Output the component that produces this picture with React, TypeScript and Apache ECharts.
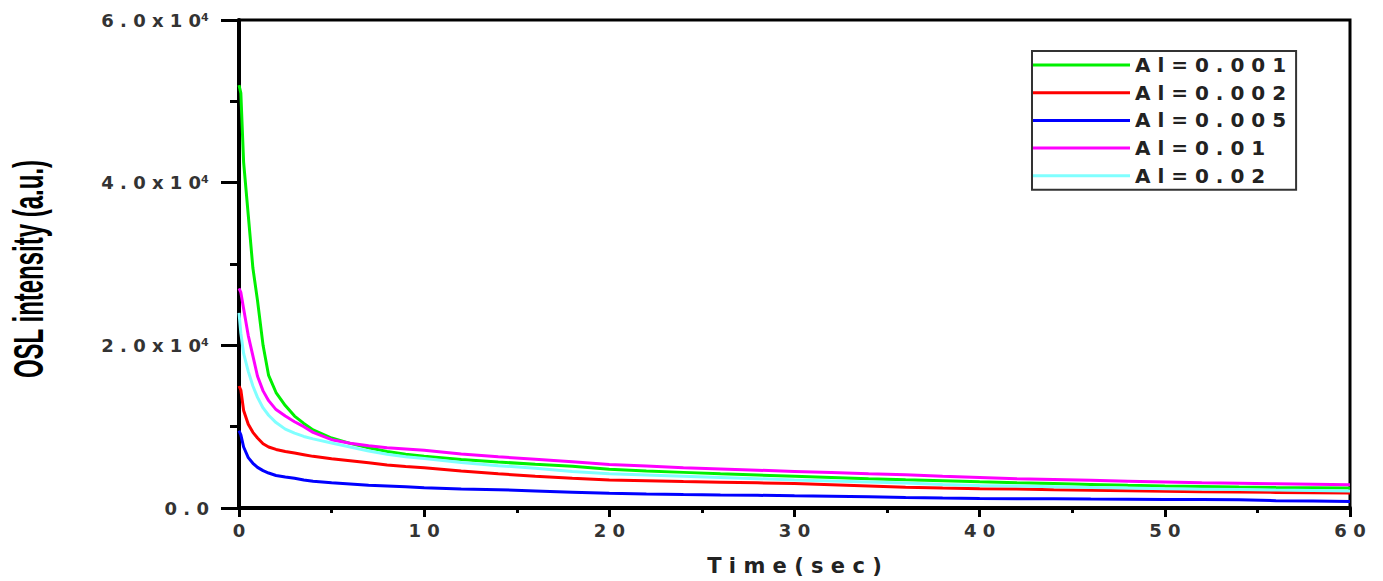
import { useEffect, useRef } from "react";
import * as echarts from "echarts";

// Time axis (seconds)
const TIME = [
  0, 0.1, 0.25, 0.5, 0.75, 1.0, 1.3, 1.6, 2.0, 2.5,
  3, 3.5, 4, 5, 6, 7, 8, 9, 10,
  12, 14, 16, 18, 20, 22, 24, 26, 28, 30, 32, 34, 36, 38, 40, 42, 44, 46, 48, 50, 52, 54, 56, 58, 60,
];

const SERIES_NAMES = ["Al=0.001", "Al=0.002", "Al=0.005", "Al=0.01", "Al=0.02"];

const AL_0001 = [
  52000, 51000, 42500, 36000, 29500, 25500, 20000, 16300, 14200, 12600,
  11300, 10400, 9600, 8600, 7950, 7400, 6950, 6600, 6350,
  5950, 5650, 5380, 5120, 4750, 4550, 4380, 4200, 4050, 3900, 3750, 3600, 3470, 3350, 3220, 3100, 3000, 2900, 2800, 2720, 2650, 2580, 2520, 2480, 2450,
];
const AL_0002 = [
  15000, 14500, 12000, 10300, 9300, 8600, 7900, 7500, 7200, 6950,
  6750, 6550, 6350, 6050, 5800, 5550, 5300, 5100, 4950,
  4550, 4200, 3900, 3650, 3450, 3350, 3250, 3180, 3100, 3000, 2850, 2700, 2550, 2450, 2380, 2330, 2250, 2180, 2120, 2060, 2000, 1960, 1920, 1880, 1840,
];
const AL_0005 = [
  9500, 9000, 7500, 6200, 5500, 5000, 4600, 4300, 4000, 3800,
  3650, 3450, 3300, 3100, 2950, 2800, 2700, 2600, 2500,
  2350, 2250, 2100, 1950, 1800, 1720, 1650, 1600, 1560, 1500, 1450, 1380, 1280, 1220, 1180, 1150, 1130, 1100, 1080, 1050, 1030, 1000, 900, 850, 800,
];
const AL_001 = [
  27000, 26500, 24500, 21200, 18700, 16200, 14400, 13200, 12100, 11300,
  10600, 10000, 9300, 8400, 7950, 7650, 7400, 7250, 7100,
  6650, 6300, 6000, 5700, 5350, 5150, 4950, 4800, 4650, 4500, 4350, 4200, 4080, 3900, 3750, 3600, 3500, 3400, 3300, 3200, 3100, 3050, 2980, 2920, 2860,
];
const AL_002 = [
  24000, 21500, 19000, 16800, 15000, 13600, 12300, 11400, 10500, 9700,
  9200, 8800, 8500, 8000, 7500, 7000, 6600, 6300, 6100,
  5600, 5200, 4900, 4500, 4200, 4050, 3900, 3750, 3600, 3450, 3330, 3200, 3060, 2900, 2780, 2700, 2620, 2530, 2450, 2380, 2320, 2260, 2200, 2150, 2100,
];

const X_TICK_VALUES = [0, 10, 20, 30, 40, 50, 60];
const X_TICK_LABELS = ["0", "10", "20", "30", "40", "50", "60"];
const Y_TICK_VALUES = [0, 20000, 40000, 60000];
const Y_TICK_LABELS = ["0.0", "2.0x10⁴", "4.0x10⁴", "6.0x10⁴"];

const X_TITLE = "Time(sec)";
const Y_TITLE = "OSL intensity (a.u.)";

const ALL_VALUES = [AL_0001, AL_0002, AL_0005, AL_001, AL_002];
const COLORS = ["#00f000", "#ff0000", "#0000ff", "#ff00ff", "#80ffff"];

function spaced(s: string, sp: string = " "): string {
  const chars = Array.from(s);
  return chars
    .map((c, i) => (i < chars.length - 1 && chars[i + 1] !== "⁴" ? c + sp : c))
    .join("");
}

function labelFor(values: number[], labels: string[], v: number): string {
  const i = values.findIndex((x) => Math.abs(x - v) < 1e-6);
  return i >= 0 ? spaced(labels[i]) : "";
}

export default function App() {
  const ref = useRef<HTMLDivElement>(null);

  useEffect(() => {
    if (!ref.current) return;
    const chart = echarts.init(ref.current, undefined, { renderer: "svg" });
    const font = "DejaVu Sans";
    chart.setOption({
      animation: false,
      backgroundColor: "#ffffff",
      grid: {
        left: 239,
        right: 33,
        top: 20,
        bottom: 71,
        show: true,
        borderColor: "#000",
        borderWidth: 3,
      },
      xAxis: {
        type: "value",
        min: 0,
        max: 60,
        interval: 10,
        axisLine: { show: true, onZero: false, lineStyle: { color: "#000", width: 4 } },
        axisTick: { show: true, length: 9, lineStyle: { color: "#000", width: 3 } },
        minorTick: { show: true, splitNumber: 2, length: 5, lineStyle: { color: "#000", width: 3 } },
        splitLine: { show: false },
        axisLabel: {
          margin: 13,
          color: "#333",
          fontFamily: font,
          fontWeight: "bold",
          fontSize: 18,
          showMinLabel: true,
          showMaxLabel: true,
          formatter: (v: number) => labelFor(X_TICK_VALUES, X_TICK_LABELS, v),
        },
        name: spaced(X_TITLE),
        nameLocation: "middle",
        nameGap: 47,
        nameTextStyle: { color: "#222", fontFamily: font, fontWeight: "bold", fontSize: 21 },
      },
      yAxis: {
        type: "value",
        min: 0,
        max: 60000,
        interval: 20000,
        axisLine: { show: true, onZero: false, lineStyle: { color: "#000", width: 4 } },
        axisTick: { show: true, length: 18, lineStyle: { color: "#000", width: 3 } },
        minorTick: { show: true, splitNumber: 2, length: 9, lineStyle: { color: "#000", width: 3 } },
        splitLine: { show: false },
        axisLabel: {
          margin: 30,
          color: "#333",
          fontFamily: font,
          fontWeight: "bold",
          fontSize: 18,
          showMinLabel: true,
          showMaxLabel: true,
          formatter: (v: number) => labelFor(Y_TICK_VALUES, Y_TICK_LABELS, v),
        },
      },
      legend: {
        show: true,
        orient: "vertical",
        left: 1032,
        top: 51,
        padding: [4, 10, 4, 1],
        borderColor: "#333",
        borderWidth: 2,
        backgroundColor: "#fff",
        icon: "rect",
        itemWidth: 97,
        itemHeight: 3,
        itemGap: 7.7,
        itemTextGap: 6,
        data: SERIES_NAMES,
        formatter: (name: string) => spaced(name),
        textStyle: {
          color: "#222",
          fontFamily: font,
          fontWeight: "bold",
          fontSize: 20,
          lineHeight: 18,
        },
      },
      graphic: [
        {
          type: "text",
          x: 28,
          y: 269,
          rotation: Math.PI / 2,
          scaleY: 1.75,
          style: {
            text: Y_TITLE,
            font: "bold 24px 'Liberation Sans'",
            fill: "#000",
            align: "center",
            verticalAlign: "middle",
          },
        },
      ],
      series: SERIES_NAMES.map((name, k) => ({
        name,
        type: "line",
        showSymbol: false,
        symbol: "none",
        color: COLORS[k],
        lineStyle: { color: COLORS[k], width: 3 },
        data: TIME.map((t, i) => [t, ALL_VALUES[k][i]]),
      })),
    });
    return () => chart.dispose();
  }, []);

  return (
    <div
      ref={ref}
      style={{ position: "fixed", left: 0, top: 0, width: 1383, height: 581, background: "#fff" }}
    />
  );
}
